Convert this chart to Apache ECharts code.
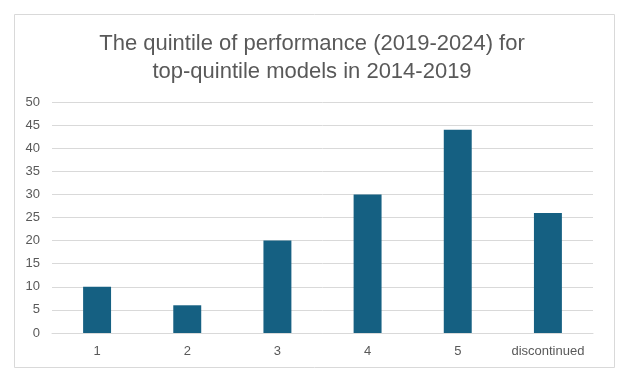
<!DOCTYPE html>
<html><head><meta charset="utf-8">
<script src="https://cdn.jsdelivr.net/npm/echarts@6/dist/echarts.min.js"></script>
<style>html,body{margin:0;padding:0;background:#fff}#c{width:631px;height:387px}</style>
</head><body><div id="c"></div>
<script>
const titleText = 'The quintile of performance (2019-2024) for\ntop-quintile models in 2014-2019';
const categories = ['1', '2', '3', '4', '5', 'discontinued'];
const values = [10, 6, 20, 30, 44, 26];
const yTicks = {min: 0, max: 50, interval: 5};

const chart = echarts.init(document.getElementById('c'), null, {renderer: 'canvas'});
chart.setOption({
  animation: false,
  graphic: [{
    type: 'rect', left: 12, top: 12, shape: {width: 600, height: 353},
    style: {fill: 'none', stroke: '#d9d9d9', lineWidth: 1}, silent: true
  }],
  title: {
    text: titleText, left: 307, top: 25, textAlign: 'center',
    textStyle: {fontFamily: 'Liberation Sans', fontSize: 22, fontWeight: 'normal', color: '#595959', lineHeight: 28}
  },
  grid: {left: 52, right: 38, top: 102, bottom: 54, containLabel: false},
  xAxis: {
    type: 'category', data: categories,
    axisLine: {lineStyle: {color: '#d9d9d9'}}, axisTick: {show: false},
    axisLabel: {color: '#595959', fontSize: 13, fontFamily: 'Liberation Sans', margin: 12, interval: 0}
  },
  yAxis: {
    type: 'value', min: yTicks.min, max: yTicks.max, interval: yTicks.interval,
    axisLine: {show: false}, axisTick: {show: false},
    splitLine: {lineStyle: {color: '#d9d9d9'}},
    axisLabel: {color: '#595959', fontSize: 13, fontFamily: 'Liberation Sans', margin: 12}
  },
  series: [{
    type: 'bar', data: values, barWidth: '31%',
    itemStyle: {color: '#156082'}
  }]
});
</script></body></html>
